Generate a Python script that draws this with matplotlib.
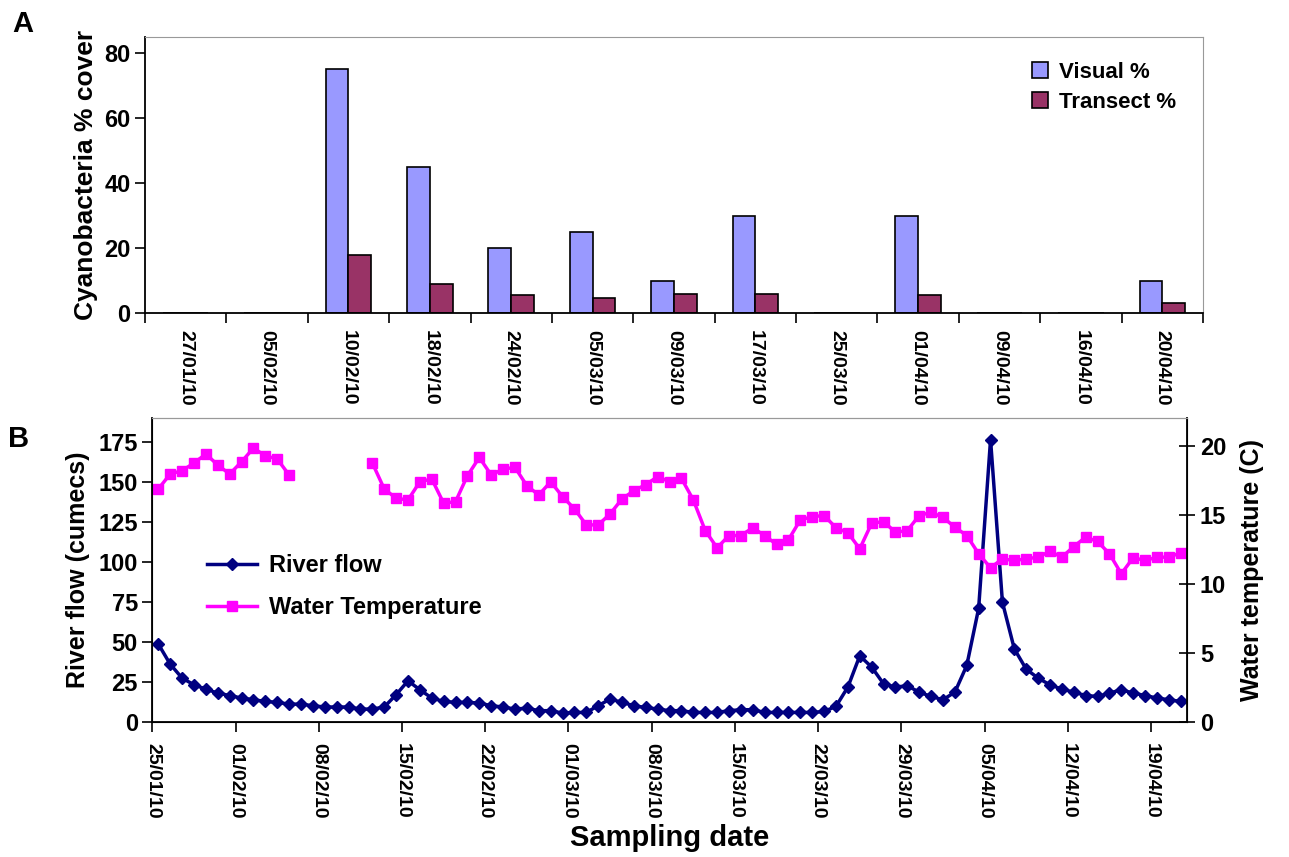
import numpy as np
import pandas as pd
import matplotlib
matplotlib.use("Agg")
from matplotlib import pyplot as plt
import matplotlib.dates as mdates

plt.rcParams['font.family'] = ['Liberation Sans', 'DejaVu Sans']
plt.rcParams['font.weight'] = 'bold'

# panel A - cyanobacteria cover
fechas_a = ['27/01/10', '05/02/10', '10/02/10', '18/02/10', '24/02/10', '05/03/10',
            '09/03/10', '17/03/10', '25/03/10', '01/04/10', '09/04/10', '16/04/10', '20/04/10']
visual = [0, 0, 75, 45, 20, 25, 10, 30, 0, 30, 0, 0, 10]
transect = [0, 0, 18, 9, 5.5, 4.5, 6, 6, 0, 5.5, 0, 0, 3]

# panel B - daily river flow and water temperature from 25/01/10
inicio = '2010-01-25 12:00'
caudal = [48.6, 36, 27.3, 23.1, 20.4, 17.9, 16.4, 14.8, 13.75, 12.7, 12.1, 11, 11, 10,
          9.2, 9.2, 9.2, 7.9, 7.9, 9.2, 16.9, 25.6, 20, 14.8, 12.7, 12.1, 12.1, 11.7, 10,
          9.2, 7.9, 8.5, 6.9, 6.9, 5.4, 5.8, 5.8, 10, 14.2, 12.1, 10, 8.9, 7.9, 6.9, 6.9,
          5.8, 5.8, 5.8, 6.9, 7.5, 7.5, 5.8, 5.8, 5.8, 5.8, 5.8, 6.4, 9.6, 21.7, 41.25,
          34.2, 23.75, 21.7, 22.5, 18.5, 15.8, 13.75, 18.5, 35.2, 71, 176.7, 74.8, 45.6,
          32.9, 27.3, 23.1, 20.4, 18.5, 16.4, 15.8, 17.9, 20, 17.9, 16.4, 14.8, 13.75, 12.7]
temperatura = [16.88, 17.96, 18.2, 18.76, 19.41, 18.61, 17.96, 18.85, 19.84, 19.28, 19.05,
               17.89, np.nan, np.nan, np.nan, np.nan, np.nan, np.nan, 18.76, 16.88, 16.2,
               16.08, 17.4, 17.6, 15.84, 15.96, 17.84, 19.16, 17.89, 18.32, 18.44, 17.11,
               16.44, 17.4, 16.32, 15.43, 14.27, 14.27, 15.07, 16.15, 16.75, 17.19, 17.77,
               17.4, 17.64, 16.08, 13.86, 12.61, 13.5, 13.5, 14.06, 13.5, 12.85, 13.19,
               14.63, 14.87, 14.95, 14.06, 13.7, 12.54, 14.39, 14.51, 13.74, 13.86, 14.95,
               15.18, 14.82, 14.1, 13.5, 12.18, 11.16, 11.81, 11.69, 11.81, 11.93, 12.36,
               11.93, 12.7, 13.38, 13.07, 12.18, 10.73, 11.89, 11.69, 11.93, 11.93, 12.25]

fig = plt.figure(figsize=(12.89, 8.57), dpi=100)

# ---------- A ----------
axa = fig.add_axes([145/1289, 1-313/857, 1058/1289, 276/857])
x = np.arange(len(fechas_a))
w = 0.28
axa.bar(x - w/2, visual, w, color='#9999FF', edgecolor='black', linewidth=1.2, label='Visual %')
axa.bar(x + w/2, transect, w, color='#993366', edgecolor='black', linewidth=1.2, label='Transect %')
axa.set_xlim(-0.5, len(fechas_a) - 0.5)
axa.set_ylim(0, 85)
axa.set_yticks([0, 20, 40, 60, 80])
axa.set_xticks(np.arange(-0.5, len(fechas_a)), [''] * (len(fechas_a) + 1))
axa.set_xticks(x, fechas_a, minor=True)
axa.tick_params(axis='x', which='major', length=7, width=1.2, direction='out')
axa.tick_params(axis='x', which='minor', length=0, pad=12, labelsize=14, labelrotation=-90)
axa.tick_params(axis='y', length=7, width=1.2, labelsize=17)
axa.set_ylabel('Cyanobacteria % cover', fontsize=19, fontweight='bold', labelpad=4)
for s in ['top', 'right']:
    axa.spines[s].set_color('#999999')
for s in ['left', 'bottom']:
    axa.spines[s].set_linewidth(1.3)
axa.legend(loc='upper left', bbox_to_anchor=(1012/1289, 1-42/857), bbox_transform=fig.transFigure,
           frameon=False, fontsize=16, handlelength=0.7, handleheight=0.7,
           handletextpad=0.5, labelspacing=0.4)
fig.text(12/1289, 1-32/857, 'A', fontsize=21, fontweight='bold')

# ---------- B ----------
axb = fig.add_axes([152.4/1289, 1-721.7/857, 1034.3/1289, 303.4/857])
dias = pd.date_range(inicio, periods=len(caudal), freq='D')
l1, = axb.plot(dias, caudal, color='#000080', marker='D', markersize=6.5, linewidth=2.5,
               label='River flow')
axb.set_ylim(0, 190)
axb.set_yticks(np.arange(0, 176, 25))
axb.set_xlim(pd.Timestamp('2010-01-25'), pd.Timestamp('2010-04-22'))
semanas = pd.date_range('2010-01-25', '2010-04-19', freq='7D')
axb.set_xticks(semanas)
axb.xaxis.set_major_formatter(mdates.DateFormatter('%d/%m/%y'))
axb.tick_params(axis='x', length=7, width=1.2, labelsize=14, labelrotation=-90, pad=8)
axb.tick_params(axis='y', length=7, width=1.2, labelsize=17)
axb.set_ylabel('River flow (cumecs)', fontsize=18, fontweight='bold', labelpad=6)
axb.set_xlabel('Sampling date', fontsize=21, fontweight='bold', labelpad=4)

axt = axb.twinx()
l2, = axt.plot(dias, temperatura, color='#FF00FF', marker='s', markersize=7, linewidth=2.5,
               label='Water Temperature')
axt.set_ylim(0, 22)
axt.set_yticks([0, 5, 10, 15, 20])
axt.tick_params(axis='y', length=12, width=1.2, direction='inout', labelsize=17)
axt.set_ylabel('Water temperature (C)', fontsize=18, fontweight='bold', labelpad=10)
axb.spines['top'].set_color('#999999')
axt.spines['top'].set_color('#999999')
for s in ['left', 'bottom']:
    axb.spines[s].set_linewidth(1.3)
axt.spines['right'].set_linewidth(1.3)
axt.legend([l1, l2], ['River flow', 'Water Temperature'], loc='upper left',
           bbox_to_anchor=(186/1289, 1-533/857), bbox_transform=fig.transFigure,
           frameon=False, fontsize=17, handlelength=2.1, handletextpad=0.5, labelspacing=0.8)
fig.text(8/1289, 1-447/857, 'B', fontsize=21, fontweight='bold')

fig.savefig('out.png', dpi=100)
